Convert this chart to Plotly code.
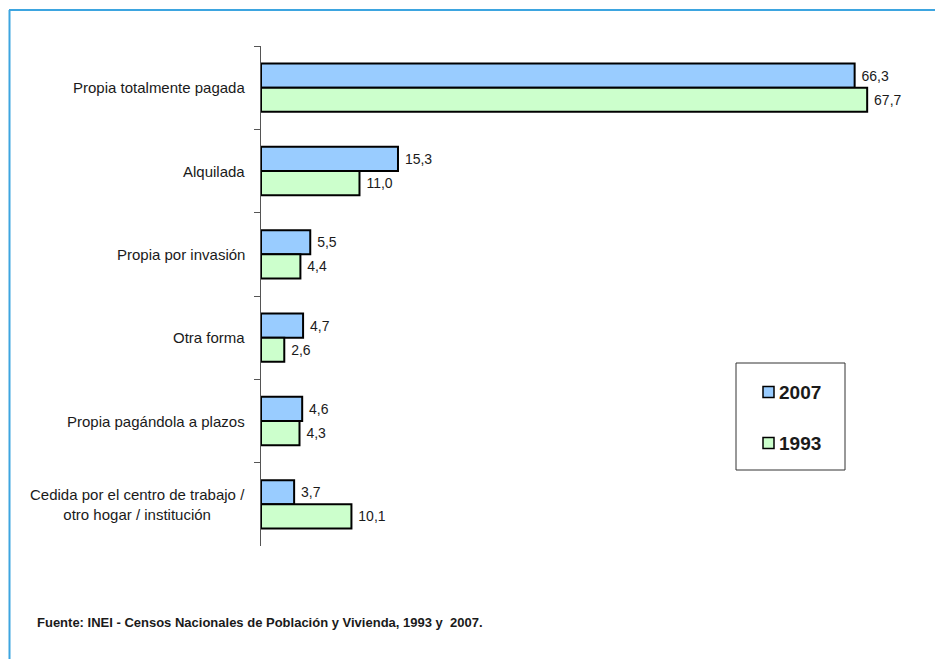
import plotly.graph_objects as go

# the page body has an 8px margin, so the figure is drawn 8px in and down
OFFSET = 8
W, H = 943 - OFFSET, 659 - OFFSET
# plot area in screen pixels (left, right, top, bottom)
PL, PR, PT, PB = 261, 920, 46, 546

categories = [
    "Propia totalmente pagada",
    "Alquilada",
    "Propia por invasión",
    "Otra forma",
    "Propia pagándola a plazos",
    "Cedida por el centro de trabajo /<br>otro hogar / institución",
]
values_2007 = [66.3, 15.3, 5.5, 4.7, 4.6, 3.7]
values_1993 = [67.7, 11.0, 4.4, 2.6, 4.3, 10.1]
series = [("2007", values_2007, "#99CCFF"), ("1993", values_1993, "#CCFFCC")]

X_MAX = 73.6
FONT = "Liberation Sans, Arial, sans-serif"
TEXT_COLOR = "#1a1a1a"
FRAME_COLOR = "#3da5e0"


def px(x):
    return (x - PL) / (PR - PL)


def py(y):
    return (PB - y) / (PB - PT)


fig = go.Figure()
for name, vals, color in series:
    fig.add_trace(go.Bar(
        y=categories, x=vals, name=name, orientation="h",
        marker=dict(color=color, line=dict(color="black", width=2)),
        texttemplate="\u00a0%{x:.1f}", textposition="outside", cliponaxis=False,
        textfont=dict(family=FONT, size=14, color=TEXT_COLOR),
        showlegend=False,
    ))

# category labels (multi-line one is centred like the original)
annotations = []
for cat in categories:
    annotations.append(dict(
        x=px(247), y=cat, xref="paper", yref="y", text=cat,
        xanchor="right", yanchor="middle", align="center", showarrow=False,
        font=dict(family=FONT, size=15, color=TEXT_COLOR),
    ))

# legend box drawn by hand
shapes = [
    dict(type="rect", xref="paper", yref="paper",
         x0=px(736), x1=px(845), y0=py(470), y1=py(363),
         line=dict(color="#333333", width=1), fillcolor="white"),
    # outer frame (left + top)
    dict(type="line", xref="paper", yref="paper",
         x0=px(9.5), x1=px(9.5), y0=py(10), y1=py(700),
         line=dict(color=FRAME_COLOR, width=2)),
    dict(type="line", xref="paper", yref="paper",
         x0=px(9), x1=px(1000), y0=py(10), y1=py(10),
         line=dict(color=FRAME_COLOR, width=2)),
]
for (name, _, color), yc in zip(series, [392, 443]):
    shapes.append(dict(
        type="rect", xref="paper", yref="paper",
        x0=px(763), x1=px(774), y0=py(yc + 5.5), y1=py(yc - 5.5),
        line=dict(color="black", width=1.5), fillcolor=color))
    annotations.append(dict(
        x=px(777), y=py(yc), xref="paper", yref="paper", text=f"<b>{name}</b>",
        xanchor="left", yanchor="middle", showarrow=False,
        font=dict(family=FONT, size=19, color=TEXT_COLOR)))

annotations.append(dict(
    x=px(35), y=py(622), xref="paper", yref="paper",
    text="<b>Fuente: INEI - Censos Nacionales de Población y Vivienda, 1993 y  2007.</b>",
    xanchor="left", yanchor="middle", showarrow=False,
    font=dict(family=FONT, size=13, color=TEXT_COLOR)))

fig.update_layout(
    width=W, height=H,
    margin=dict(l=PL - OFFSET, r=943 - PR, t=PT - OFFSET, b=659 - PB, pad=0),
    paper_bgcolor="white", plot_bgcolor="white",
    barmode="group", bargap=0.42, bargroupgap=0,
    separators=",.",
    showlegend=False,
    shapes=shapes, annotations=annotations,
    xaxis=dict(visible=False, range=[0, X_MAX], fixedrange=True),
    yaxis=dict(
        type="category", categoryorder="array", categoryarray=categories,
        autorange="reversed", showline=True, linecolor="#555555", linewidth=1,
        ticks="outside", tickson="boundaries", ticklen=6, tickcolor="#555555",
        showticklabels=False, showgrid=False, zeroline=False,
    ),
)

fig.write_html("out.html")
